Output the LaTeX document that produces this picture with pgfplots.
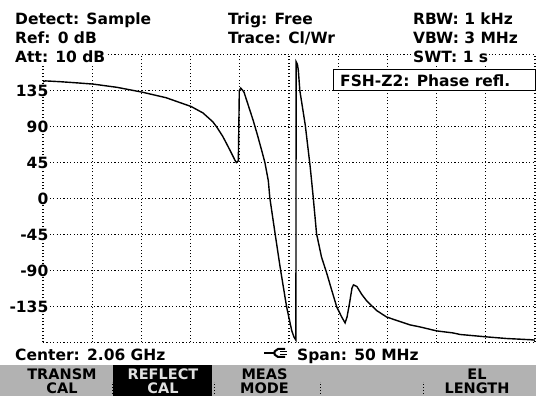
\documentclass[border=0pt]{standalone}
\usepackage{pgfplots}
\pgfplotsset{compat=1.18}
\usepackage{fontspec}
\setmainfont{DejaVu Sans}
\definecolor{keygray}{RGB}{178,178,178}
\newcommand\F{\fontsize{15.5}{16}\selectfont\bfseries}
\newcommand\K{\fontsize{14.5}{15}\selectfont\bfseries}
\begin{document}
\begin{tikzpicture}[x=1pt,y=1pt]
\useasboundingbox (0,0) rectangle (536,396);
\fill[white] (0,0) rectangle (536,396);
\begin{axis}[
  at={(43pt,53.5pt)}, anchor=south west,
  width=492pt, height=288pt, scale only axis,
  xmin=0, xmax=10, ymin=-180, ymax=180,
  xtick={0,1,...,10}, xticklabels={},
  ytick={-180,-135,-90,-45,0,45,90,135,180},
  yticklabels={{},-135,-90,-45,0,45,90,135,{}},
  grid=major,
  major grid style={black, line width=1.1pt, dash pattern=on 1.1pt off 2.3pt},
  axis line style={draw=none},
  major tick length=0pt,
  yticklabel style={font=\F, anchor=east, xshift=6pt, fill=white, inner sep=0.5pt},
]
\addplot[black, line width=1.4pt] coordinates {
(0.00,146) (0.05,147) (0.35,146) (0.7,144.5) (1.02,143) (1.5,139) (2.01,133)
(2.5,126) (3.01,115) (3.25,107) (3.45,96) (3.53,89.5) (3.65,78) (3.73,68.7)
(3.82,58) (3.90,48) (3.93,45) (3.97,47) (3.98,90) (3.99,135) (4.02,138)
(4.06,135) (4.085,133) (4.18,115) (4.27,98) (4.36,79) (4.445,60) (4.51,45)
(4.58,22) (4.61,1) (4.66,-20) (4.72,-45) (4.82,-86) (4.95,-135) (5.055,-165)
(5.10,-173) (5.14,-177) (5.145,171) (5.17,168) (5.19,160) (5.22,135)
(5.33,92) (5.43,40) (5.49,3) (5.56,-44) (5.66,-73) (5.77,-94) (5.87,-115)
(5.97,-135.5) (6.07,-148) (6.14,-155.5) (6.18,-148) (6.23,-131) (6.28,-112)
(6.31,-108) (6.38,-110) (6.48,-120) (6.58,-128) (6.78,-140) (6.98,-148)
(7.12,-151) (7.46,-158) (7.66,-160.5) (8.0,-165.5) (8.33,-168) (8.48,-170)
(8.75,-171.5) (9.02,-173) (9.42,-175) (9.90,-176.5) (10,-177)
};
\end{axis}
% header text
\node[anchor=base west, font=\F, inner sep=0pt] at (15,371) {Detect: Sample};
\node[anchor=base west, font=\F, inner sep=0pt] at (15,352.7) {Ref: 0 dB};
\node[anchor=base west, font=\F, fill=white, inner sep=1pt] at (14,333.5) {Att: 10 dB};
\node[anchor=base west, font=\F, inner sep=0pt] at (228,371) {Trig: Free};
\node[anchor=base west, font=\F, inner sep=0pt] at (228,352.7) {Trace: Cl/Wr};
\node[anchor=base west, font=\F, inner sep=0pt] at (413,371) {RBW: 1 kHz};
\node[anchor=base west, font=\F, inner sep=0pt] at (413,352.7) {VBW: 3 MHz};
\node[anchor=base west, font=\F, fill=white, inner sep=1pt] at (412,333.5) {SWT: 1 s};
% annotation box
\draw[fill=white, line width=1.2pt] (333.5,305.3) rectangle (535.4,326.7);
\node[anchor=base west, font=\F, inner sep=0pt] at (340,309.3) {FSH-Z2: Phase refl.};
% bottom line
\node[anchor=base west, font=\F, inner sep=0pt] at (15,35.3) {Center: 2.06 GHz};
\node[anchor=base west, font=\F, inner sep=0pt] at (297,35.3) {Span: 50 MHz};
\draw[line width=2pt] (264,43)--(274,43);
\draw[line width=2pt] (285,47)--(278,47)--(274.5,44.5)--(274.5,41.5)--(278,39)--(285,39);
\draw[line width=1.6pt] (280,44.5)--(287,44.5) (280,41.5)--(287,41.5);
% softkeys
\fill[keygray] (0,0) rectangle (536,31);
\fill[black] (113,0) rectangle (212,31);
\node[anchor=base, font=\K, inner sep=0pt] at (62,16.5) {TRANSM};
\node[anchor=base, font=\K, inner sep=0pt] at (62,2.5) {CAL};
\node[anchor=base, font=\K, inner sep=0pt, text=keygray!40] at (163,16.5) {REFLECT};
\node[anchor=base, font=\K, inner sep=0pt, text=keygray!40] at (163,2.5) {CAL};
\node[anchor=base, font=\K, inner sep=0pt] at (264.5,16.5) {MEAS};
\node[anchor=base, font=\K, inner sep=0pt] at (264.5,2.5) {MODE};
\node[anchor=base, font=\K, inner sep=0pt] at (477,16.5) {EL};
\node[anchor=base, font=\K, inner sep=0pt] at (477,2.5) {LENGTH};
\foreach \sx in {112,214,320,423}
  \draw[black, line width=1pt, dash pattern=on 1pt off 2pt] (\sx,2)--(\sx,14);
\end{tikzpicture}
\end{document}
